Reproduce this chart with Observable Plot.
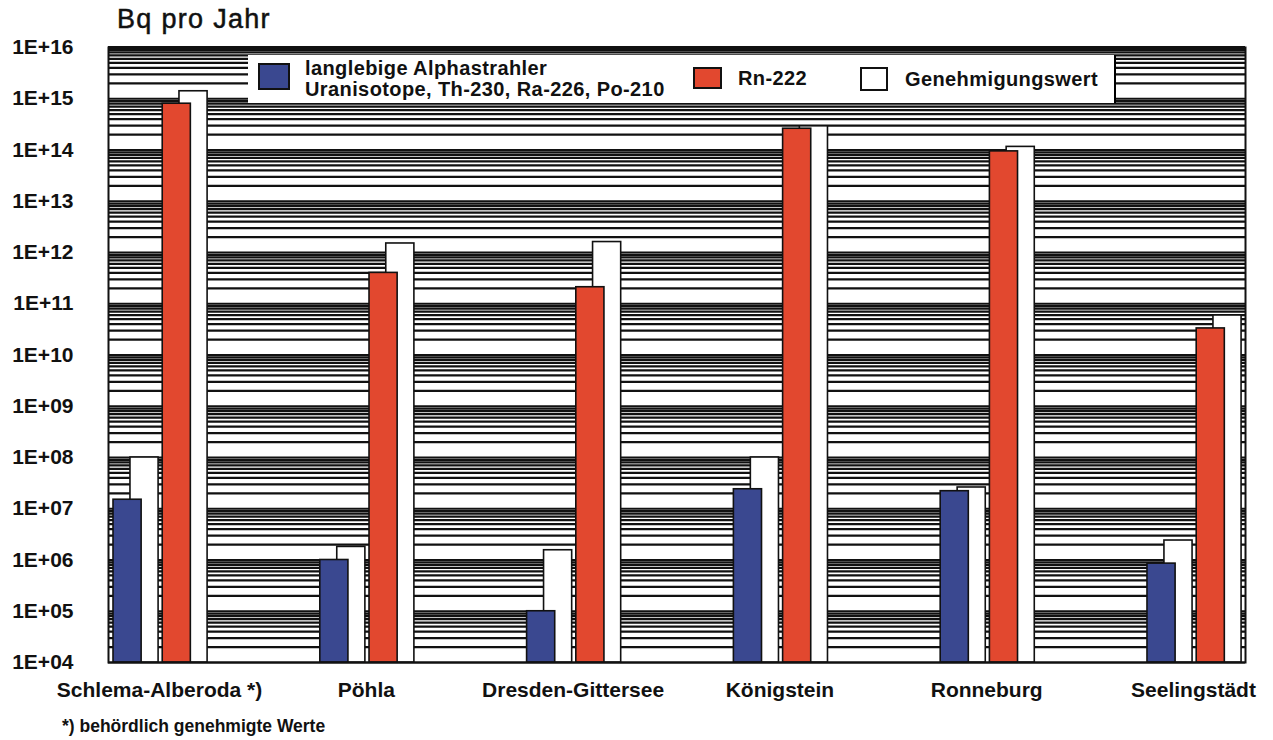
<!DOCTYPE html>
<html>
<head>
<meta charset="utf-8">
<script src="https://cdn.jsdelivr.net/npm/d3@7"></script>
<script src="https://cdn.jsdelivr.net/npm/@observablehq/plot@0.6"></script>
<style>
  body { margin: 0; background: #fff; font-family: "Liberation Sans", Arial, sans-serif; color: #111; }
  #wrap { position: relative; width: 1273px; height: 740px; }
  #title { position: absolute; left: 117px; top: 4px; font-size: 27px; letter-spacing: 1.3px; -webkit-text-stroke: 0.5px #111; }
  #note { position: absolute; left: 62px; top: 716px; font-size: 17.5px; font-weight: bold; }
  #legend { position: absolute; left: 248px; top: 55px; width: 866px; height: 48px; background: #fff; border-right: 2px solid #000; }
  #legend .sw { position: absolute; box-sizing: border-box; }
  #legend .tx { position: absolute; font-size: 20px; font-weight: bold; letter-spacing: 0.4px; white-space: nowrap; line-height: 21px; }
</style>
</head>
<body>
<div id="wrap">
  <div id="chart"></div>
  <div id="title">Bq pro Jahr</div>
  <div id="legend"></div>
  <div id="note">*) behördlich genehmigte Werte</div>
</div>
<script>
// Annual discharges (Bq per year) at the uranium mining sites
const sites = ["Schlema-Alberoda *)", "Pöhla", "Dresden-Gittersee", "Königstein", "Ronneburg", "Seelingstädt"];
const alpha      = [1.5e7, 1.0e6, 1.0e5, 2.4e7, 2.2e7, 8.5e5];   // long-lived alpha emitters
const alphaLimit = [1.0e8, 1.8e6, 1.55e6, 1.0e8, 2.6e7, 2.4e6];  // permitted value, alpha emitters
const radon      = [8.0e14, 4.0e11, 2.1e11, 2.6e14, 9.4e13, 3.3e10]; // Rn-222
const radonLimit = [1.4e15, 1.5e12, 1.6e12, 2.9e14, 1.15e14, 5.9e10]; // permitted value, Rn-222
const tickLabels = ["1E+04","1E+05","1E+06","1E+07","1E+08","1E+09","1E+10","1E+11","1E+12","1E+13","1E+14","1E+15","1E+16"];
const legendLabels = {
  alpha: ["langlebige Alphastrahler", "Uranisotope, Th-230, Ra-226, Po-210"],
  radon: "Rn-222",
  limit: "Genehmigungswert"
};

const BLUE = "#3a4890";
const RED = "#e2482f";

// bar geometry inside each site group (x units = one group step)
const BAR_W = 0.136;
const OFF_ALPHA = 0, OFF_ALPHA_LIMIT = 0.082, OFF_RADON = 0.238, OFF_RADON_LIMIT = 0.319;
const LABEL_OFF = 0.2225;

const yTicks = tickLabels.map(Number);

// logarithmic grid: 1..9 within every decade
const grid = [];
for (let e = 4; e < 16; e++) for (let k = 1; k <= 9; k++) grid.push(k * 10 ** e);
grid.push(1e16);

const rows = (values, off) => values.map((v, i) => ({i, v, x1: i + off, x2: i + off + BAR_W}));

const barOpts = (fill) => ({x1: "x1", x2: "x2", y1: 1e4, y2: "v", fill, stroke: "#111", strokeWidth: 1.6});

const chart = Plot.plot({
  width: 1273,
  height: 740,
  marginLeft: 108,
  marginRight: 28,
  marginTop: 47,
  marginBottom: 78,
  style: {fontFamily: "Liberation Sans, Arial, sans-serif", fontSize: "21px", fontWeight: "bold", color: "#111", background: "transparent"},
  x: {type: "linear", domain: [-0.0242, 5.474], label: null},
  y: {type: "log", domain: [1e4, 1e16], label: null},
  marks: [
    Plot.ruleY(grid, {stroke: "#111", strokeWidth: 2.2}),
    Plot.rect(rows(alphaLimit, OFF_ALPHA_LIMIT), barOpts("#fff")),
    Plot.rect(rows(alpha, OFF_ALPHA), barOpts(BLUE)),
    Plot.rect(rows(radonLimit, OFF_RADON_LIMIT), barOpts("#fff")),
    Plot.rect(rows(radon, OFF_RADON), barOpts(RED)),
    Plot.frame({stroke: "#111", strokeWidth: 2}),
    Plot.ruleY([1e16], {stroke: "#111", strokeWidth: 3}),
    Plot.axisY({ticks: yTicks, tickFormat: d => tickLabels[yTicks.indexOf(d)], tickSize: 0, tickPadding: 35}),
    Plot.axisX({ticks: sites.map((_, i) => i + LABEL_OFF), tickFormat: (d, i) => sites[i], tickSize: 0, tickPadding: 20})
  ]
});
document.getElementById("chart").appendChild(chart);

// legend box drawn over the upper part of the grid
const lg = document.getElementById("legend");
function sw(left, top, w, h, fill) {
  const d = document.createElement("div");
  d.className = "sw";
  Object.assign(d.style, {left: left + "px", top: top + "px", width: w + "px", height: h + "px", background: fill, border: "2px solid #111"});
  lg.appendChild(d);
}
function tx(left, top, text) {
  const d = document.createElement("div");
  d.className = "tx";
  Object.assign(d.style, {left: left + "px", top: top + "px"});
  d.textContent = text;
  lg.appendChild(d);
}
sw(10, 8, 32, 27, BLUE);
tx(57, 3, legendLabels.alpha[0]);
tx(57, 24, legendLabels.alpha[1]);
sw(445, 12, 29, 22, RED);
tx(490, 13, legendLabels.radon);
sw(612, 12, 28, 24, "#fff");
tx(657, 14, legendLabels.limit);
</script>
</body>
</html>
